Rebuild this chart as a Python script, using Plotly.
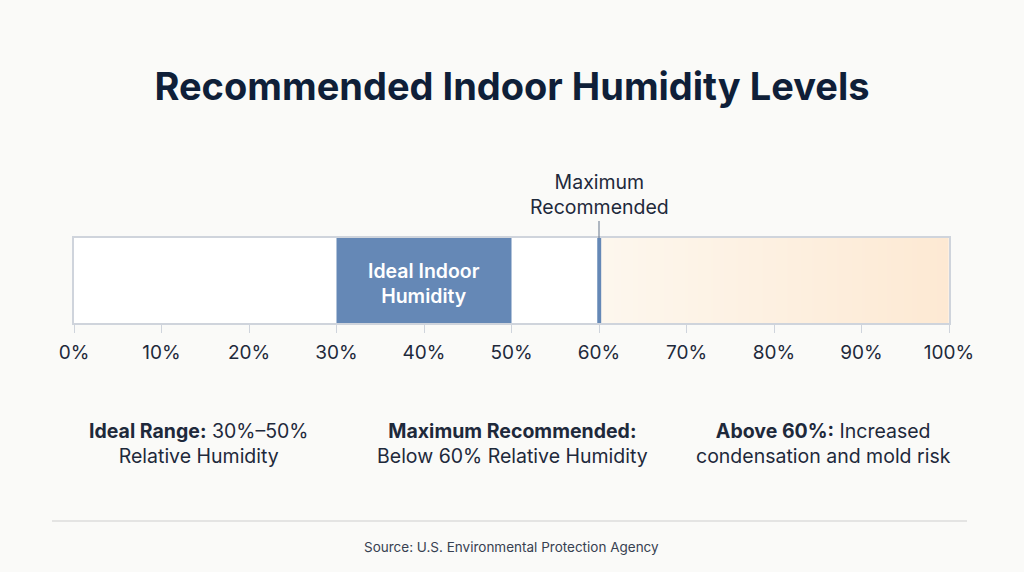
import plotly.graph_objects as go
import numpy as np

# Data
ideal_range = [30, 50]
max_recommended = 60
risk_range = [60, 100]
tick_values = [0, 10, 20, 30, 40, 50, 60, 70, 80, 90, 100]
tick_labels = ["0%", "10%", "20%", "30%", "40%", "50%", "60%", "70%", "80%", "90%", "100%"]
ideal_label = "Ideal Indoor<br>Humidity"
marker_label = "Maximum<br>Recommended"
notes = [
    "<b>Ideal Range:</b> 30%–50%<br>Relative Humidity",
    "<b>Maximum Recommended:</b><br>Below 60% Relative Humidity",
    "<b>Above 60%:</b> Increased<br>condensation and mold risk",
]
note_px = [198, 512, 823]
title = "Recommended Indoor Humidity Levels"
source = "Source: U.S. Environmental Protection Agency"

W, H = 1024, 572
L, R, T, B = 74, 75, 238, 249
PW, PH = W - L - R, H - T - B
BG = "#fafaf8"
BLUE = "#6588b6"
TEXT = "#1e293b"


def px_x(x):
    return (x - L) / PW


def px_y(y):
    return (H - B - y) / PH


fig = go.Figure()

# gradient risk zone via heatmap
gx = np.linspace(risk_range[0] + 0.3, risk_range[1], 60)
fig.add_trace(go.Heatmap(
    x=gx, y=[0, 1], z=[list(range(len(gx)))] * 2,
    colorscale=[[0, "#fdf7ee"], [1, "#fde9d3"]],
    showscale=False, hoverinfo="skip", zsmooth="best",
))

# ideal bar
fig.add_trace(go.Bar(
    y=[0.5], x=[ideal_range[1] - ideal_range[0]], base=[ideal_range[0]],
    orientation="h", width=1, marker=dict(color=BLUE, line=dict(width=0)),
    hoverinfo="skip", showlegend=False,
))
# max recommended marker
fig.add_trace(go.Bar(
    y=[0.5], x=[0.45], base=[max_recommended - 0.2],
    orientation="h", width=1, marker=dict(color=BLUE, line=dict(width=0)),
    hoverinfo="skip", showlegend=False,
))

fig.add_annotation(x=sum(ideal_range) / 2, y=0.47, xref="x", yref="y",
                   text=ideal_label, showarrow=False,
                   font=dict(family="Inter", size=19.5, color="white", weight=600))

fig.add_annotation(x=max_recommended, y=1, xref="x", yref="y",
                   text=marker_label, showarrow=True, arrowhead=0, arrowwidth=1,
                   arrowcolor="#64748b", ax=0, ay=-17, yanchor="bottom",
                   font=dict(family="Inter", size=19.5, color=TEXT))

for t, xx in zip(notes, note_px):
    fig.add_annotation(x=px_x(xx), y=px_y(443), xref="paper", yref="paper", text=t,
                       showarrow=False, align="center", xanchor="center", yanchor="middle",
                       font=dict(family="Inter", size=19.5, color=TEXT))

fig.update_layout(
    width=W, height=H,
    paper_bgcolor=BG, plot_bgcolor="white",
    margin=dict(l=L, r=R, t=T, b=B),
    barmode="overlay", showlegend=False,
    title=dict(text=f"<b>{title}</b>", x=0.5, xanchor="center", y=1 - 87 / H,
               yanchor="middle", font=dict(family="Inter", size=38, color="#0f1f38")),
    xaxis=dict(range=[0, 100], tickvals=tick_values, ticktext=tick_labels,
               showgrid=False, zeroline=False, showline=True, mirror=True,
               linecolor="#cfd4dc", linewidth=1.5, ticks="outside", ticklen=8,
               tickcolor="#cfd4dc", ticklabelstandoff=3,
               tickfont=dict(family="Inter", size=19, color=TEXT)),
    yaxis=dict(range=[0, 1], showticklabels=False, showgrid=False, zeroline=False,
               showline=True, mirror=True, linecolor="#cfd4dc", linewidth=1.5, fixedrange=True),
)

# separator and source
fig.add_shape(type="line", xref="paper", yref="paper",
              x0=px_x(52), x1=px_x(967), y0=px_y(521), y1=px_y(521),
              line=dict(color="#dcdcdc", width=1.5))
fig.add_annotation(x=0.5, y=px_y(547), xref="paper", yref="paper",
                   text=source, showarrow=False, yanchor="middle",
                   font=dict(family="Inter", size=13.5, color="#374151"))

fig.write_html("out.html")
